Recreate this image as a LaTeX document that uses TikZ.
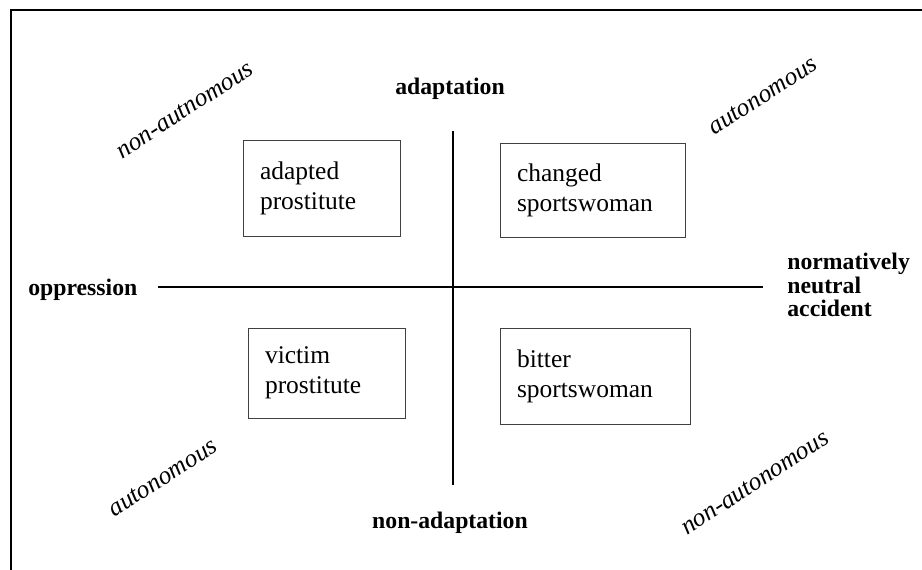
\documentclass[tikz,border=0pt]{standalone}
\usepackage{fontspec}
\setmainfont{Liberation Serif}

\begin{document}
\begin{tikzpicture}[
    x=0.02cm, y=-0.02cm,
    quad/.style={draw=black!75, line width=0.55pt, align=left, inner xsep=0.34cm, font=\fontsize{14.5}{17}\selectfont},
    pole/.style={font=\fontsize{13.5}{13.2}\selectfont\bfseries, inner sep=0pt},
    attitude/.style={font=\fontsize{14.5}{17}\selectfont\itshape, rotate=33, inner sep=0pt},
    axis/.style={line width=1.1pt},
]
\useasboundingbox (0,0) rectangle (922,569);
\clip (0,0) rectangle (922,569);

% Frame
\draw[line width=1.15pt] (11,600) |- (960,10);

% Quadrants
\node[quad, text width=2.46cm, minimum height=1.92cm] (adapted) at (321.5,188) {adapted\\prostitute};
\node[quad, text width=3.02cm, minimum height=1.88cm] (changed) at (592.5,190) {changed\\sportswoman};
\node[quad, text width=2.46cm, minimum height=1.8cm] (victim) at (326.5,373) {victim\\prostitute};
\node[quad, text width=3.12cm, minimum height=1.92cm] (bitter) at (595,376) {bitter\\sportswoman};

% Poles
\node[pole, anchor=base] (adapt) at (450,94) {adaptation};
\node[pole, anchor=base] (nonadapt) at (450,528) {non-adaptation};
\node[pole, anchor=base west] (oppr) at (28,295) {oppression};
\node[pole, anchor=west, align=left] (accident) at (787,285) {normatively\\neutral\\accident};

% Axes
\coordinate (hl) at (158,287);
\coordinate (hr) at (763,287);
\coordinate (vt) at (453,131);
\coordinate (vb) at (453,485);
\draw[axis] (hl) -- (hr);
\draw[axis] (vt) -- (vb);

% Autonomy labels
\node[attitude] (nautTL) at (185,110) {non-autnomous};
\node[attitude] (autTR) at (763,96) {autonomous};
\node[attitude] (autBL) at (163,478) {autonomous};
\node[attitude] (nautBR) at (755,483) {non-autonomous};
\end{tikzpicture}
\end{document}
